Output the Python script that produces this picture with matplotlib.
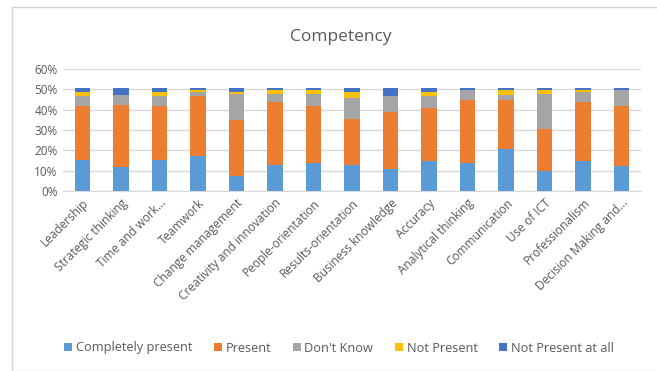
import matplotlib
matplotlib.use("Agg")
import matplotlib.pyplot as plt
import numpy as np
from matplotlib.patches import Rectangle

plt.rcParams['font.family'] = ['Open Sans', 'DejaVu Sans']

competencies = ["Leadership", "Strategic thinking", "Time and work...", "Teamwork",
                "Change management", "Creativity and innovation", "People-orientation",
                "Results-orientation", "Business knowledge", "Accuracy",
                "Analytical thinking", "Communication", "Use of ICT",
                "Professionalism", "Decision Making and..."]

completely_present = [15.1, 12.0, 15.1, 17.0, 7.5, 12.6, 13.9, 12.6, 10.7, 14.9, 13.8, 20.7, 10.0, 14.9, 12.5]
present = [26.7, 30.5, 26.7, 29.7, 27.4, 31.2, 27.9, 23.0, 28.2, 25.8, 31.1, 24.2, 20.7, 28.7, 29.3]
dont_know = [4.9, 4.9, 4.9, 2.0, 12.6, 3.7, 5.7, 10.0, 7.8, 6.0, 4.9, 2.5, 16.8, 5.1, 8.0]
not_present = [2.0, 0.0, 2.0, 1.1, 1.2, 2.3, 2.3, 2.9, 0.0, 2.0, 0.0, 2.4, 2.3, 1.1, 0.0]
not_present_at_all = [1.8, 3.1, 1.8, 0.7, 1.8, 0.7, 0.7, 2.0, 3.8, 1.8, 0.7, 0.7, 0.7, 0.7, 0.7]

series = [
    ("Completely present", completely_present, "#5B9BD5"),
    ("Present", present, "#ED7D31"),
    ("Don't Know", dont_know, "#A5A5A5"),
    ("Not Present", not_present, "#FFC000"),
    ("Not Present at all", not_present_at_all, "#4472C4"),
]

text_color = "#595959"
grid_color = "#D9D9D9"

fig = plt.figure(figsize=(6.57, 3.71), dpi=100)
# chart frame, open on the right side
fig.patches.append(Rectangle((12 / 657, 0), 1.2, (371 - 7) / 371, transform=fig.transFigure,
                             fill=False, edgecolor="#D0D0D0", linewidth=1.0))

ax = fig.add_axes([63 / 657, 1 - 191 / 371, (641 - 63) / 657, (191 - 69) / 371])

x = np.arange(len(competencies))
bottom = np.zeros(len(competencies))
for name, vals, color in series:
    vals = np.array(vals) / 100
    ax.bar(x, vals, width=0.4, bottom=bottom, color=color, label=name, zorder=3)
    bottom += vals

ax.set_xlim(-0.5, len(competencies) - 0.5)
ax.set_ylim(0, 0.6)
yt = np.arange(0, 0.61, 0.1)
ax.set_yticks(yt)
ax.set_yticklabels([f"{int(round(v * 100))}%" for v in yt], color=text_color, fontsize=8.5)
ax.yaxis.grid(True, color=grid_color, linewidth=1, zorder=0)
ax.set_xticks(x)
ax.set_xticklabels(competencies, rotation=45, ha="right", rotation_mode="anchor",
                   color=text_color, fontsize=8.6)
ax.tick_params(axis="both", length=0, pad=4)
for side in ["top", "right", "left"]:
    ax.spines[side].set_visible(False)
ax.spines["bottom"].set_color(grid_color)
ax.spines["bottom"].set_zorder(1)

fig.text(341 / 657, 1 - 37 / 371, "Competency", ha="center", va="center",
         fontsize=12.5, color=text_color)

handles, labels = ax.get_legend_handles_labels()
fig.legend(handles, labels, loc="center", bbox_to_anchor=(339 / 657, 1 - 348 / 371),
           ncol=5, frameon=False, fontsize=9.2, handlelength=0.6, handleheight=0.6,
           handletextpad=0.3, columnspacing=1.7, labelcolor=text_color)

fig.savefig("out.png", dpi=100)
